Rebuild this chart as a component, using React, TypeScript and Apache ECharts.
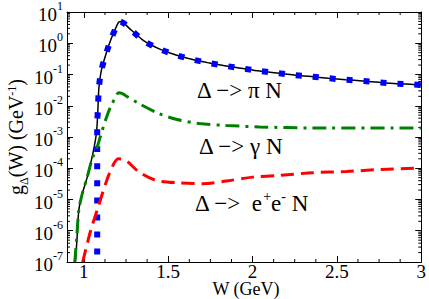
import React, { useEffect, useRef } from "react";
import * as echarts from "echarts";

// ---- data ----
// Δ -> πN : sub-threshold tail of the solid black curve
const PI_TAIL_W = [0.951, 0.96, 0.97, 0.99, 1.02, 1.049, 1.065, 1.076];
const PI_TAIL_G = [1.1e-7, 6.3e-7, 4.5e-6, 1.5e-5, 5.2e-5, 2.3e-4, 6.2e-4, 1.6e-3];
// Δ -> πN : main part (shared by black line and blue squares)
const PI_W = [1.083, 1.089, 1.103, 1.131, 1.1625, 1.204, 1.215, 1.238, 1.282, 1.361, 1.45, 1.546, 1.645, 1.744, 1.843, 1.942, 2.042, 2.145, 2.246, 2.349, 2.448, 2.552, 2.653, 2.752, 2.855, 2.954, 3.0];
const PI_G = [7.2e-3, 3.7e-2, 0.13, 0.45, 1.41, 4.6, 5.0, 4.3, 2.6, 1.15, 0.65, 0.42, 0.3, 0.233, 0.187, 0.155, 0.129, 0.112, 0.096, 0.086, 0.076, 0.068, 0.062, 0.056, 0.051, 0.048, 0.046];
// blue squares: vertical rise at the πN threshold
const BLUE_THR_W = [1.079, 1.079];
const BLUE_THR_G = [5e-8, 2.5e-3];
// Δ -> γN
const GAMMA_W = [0.946, 0.958, 0.97, 0.99, 1.02, 1.049, 1.079, 1.099, 1.138, 1.168, 1.208, 1.225, 1.248, 1.327, 1.446, 1.546, 1.685, 1.843, 2.042, 2.357, 3.0];
const GAMMA_G = [1.0e-7, 6.3e-7, 4.5e-6, 1.5e-5, 5.2e-5, 2.0e-4, 4.8e-4, 1.1e-3, 4.9e-3, 1.17e-2, 2.6e-2, 2.5e-2, 2.1e-2, 1.17e-2, 5.6e-3, 3.7e-3, 2.7e-3, 2.35e-3, 2.1e-3, 1.95e-3, 1.95e-3];
// Δ -> e+e-N
const EE_W = [0.993, 1.04, 1.085, 1.129, 1.168, 1.204, 1.248, 1.327, 1.427, 1.565, 1.704, 1.843, 2.002, 2.161, 2.359, 2.558, 2.756, 3.0];
const EE_G = [1.0e-7, 1.0e-6, 5.8e-6, 3.2e-5, 1.1e-4, 2.0e-4, 1.8e-4, 7.6e-5, 4.1e-5, 3.4e-5, 3.2e-5, 3.9e-5, 5.2e-5, 5.9e-5, 7.2e-5, 7.9e-5, 9.1e-5, 1.02e-4];

// axes
const X_MIN = 0.9;
const X_MAX = 3;
const Y_MIN = 1e-7;
const Y_MAX = 10;
const X_TICK_LABELS = [1, 1.5, 2, 2.5, 3];
const X_MINOR = [1.125, 1.25, 1.375, 1.625, 1.75, 1.875, 2.125, 2.25, 2.375, 2.625, 2.75, 2.875];
const Y_DECADES = [-7, -6, -5, -4, -3, -2, -1, 0];
const Y_MINOR_MULT = [2, 3, 4, 5, 6, 7, 8, 9];

const FONT = "Liberation Serif";

const zip = (a: number[], b: number[]) => a.map((v, i) => [v, b[i]]);

export default function App() {
  const ref = useRef<HTMLDivElement>(null);
  useEffect(() => {
    if (!ref.current) return;
    const chart = echarts.init(ref.current, null, { renderer: "svg" });

    const minorData: number[][] = [];
    Y_DECADES.forEach((e) =>
      Y_MINOR_MULT.forEach((k) => minorData.push([X_MIN, k * Math.pow(10, e), 0]))
    );
    X_MINOR.forEach((x) => minorData.push([x, Y_MIN, 1]));

    const supLabel = (v: number) => {
      const e = Math.round(Math.log10(v));
      return `{b|10}{s|${e}}`;
    };

    const axisLineStyle = { show: true, lineStyle: { color: "#000", width: 1 } };

    chart.setOption({
      animation: false,
      backgroundColor: "#fff",
      grid: { left: 67, right: 7, top: 12, bottom: 37, containLabel: false },
      xAxis: [
        {
          type: "value",
          min: X_MIN,
          max: X_MAX,
          splitNumber: 5,
          axisLine: axisLineStyle,
          axisTick: { show: true, inside: true, length: 6, lineStyle: { color: "#000" } },
          splitLine: { show: false },
          axisLabel: {
            margin: 2,
            color: "#000",
            fontFamily: FONT,
            fontSize: 19,
            lineHeight: 15,
            formatter: (v: number) => (X_TICK_LABELS.some((t) => Math.abs(t - v) < 1e-9) ? String(v) : ""),
          },
        },
        {
          type: "value",
          position: "top",
          min: X_MIN,
          max: X_MAX,
          splitNumber: 5,
          axisLine: axisLineStyle,
          axisTick: { show: true, inside: true, length: 6, lineStyle: { color: "#000" } },
          splitLine: { show: false },
          axisLabel: { show: false },
        },
      ],
      yAxis: [
        {
          type: "log",
          logBase: 10,
          min: Y_MIN,
          max: Y_MAX,
          axisLine: axisLineStyle,
          axisTick: { show: true, inside: true, length: 6, lineStyle: { color: "#000" } },
          splitLine: { show: false },
          axisLabel: {
            margin: 4,
            color: "#000",
            fontFamily: FONT,
            formatter: supLabel,
            rich: {
              b: { fontFamily: FONT, fontSize: 19, lineHeight: 24, color: "#000", verticalAlign: "bottom" },
              s: { fontFamily: FONT, fontSize: 12, lineHeight: 12, color: "#000", verticalAlign: "top" },
            },
          },
        },
        {
          type: "log",
          logBase: 10,
          position: "right",
          min: Y_MIN,
          max: Y_MAX,
          axisLine: axisLineStyle,
          axisTick: { show: true, inside: true, length: 6, lineStyle: { color: "#000" } },
          splitLine: { show: false },
          axisLabel: { show: false },
        },
      ],
      series: [
        {
          type: "custom",
          silent: true,
          clip: false,
          data: minorData,
          renderItem: (params: any, api: any) => {
            const kind = api.value(2);
            const len = 3;
            const style = { stroke: "#000", lineWidth: 1 };
            if (kind === 0) {
              const v = api.value(1);
              const p1 = api.coord([X_MIN, v]);
              const p2 = api.coord([X_MAX, v]);
              return {
                type: "group",
                children: [
                  { type: "line", shape: { x1: p1[0], y1: p1[1], x2: p1[0] + len, y2: p1[1] }, style },
                  { type: "line", shape: { x1: p2[0], y1: p2[1], x2: p2[0] - len, y2: p2[1] }, style },
                ],
              };
            }
            const x = api.value(0);
            const p1 = api.coord([x, Y_MIN]);
            const p2 = api.coord([x, Y_MAX]);
            return {
              type: "group",
              children: [
                { type: "line", shape: { x1: p1[0], y1: p1[1], x2: p1[0], y2: p1[1] - len }, style },
                { type: "line", shape: { x1: p2[0], y1: p2[1], x2: p2[0], y2: p2[1] + len }, style },
              ],
            };
          },
        },
        {
          name: "pi",
          type: "line",
          data: zip(PI_TAIL_W, PI_TAIL_G).concat(zip(PI_W, PI_G)),
          showSymbol: false,
          smooth: 0.3,
          lineStyle: { color: "#000", width: 1.5 },
          z: 3,
        },
        {
          name: "pi-blue",
          type: "line",
          data: zip(BLUE_THR_W, BLUE_THR_G).concat(zip(PI_W, PI_G)),
          showSymbol: false,
          smooth: 0.3,
          lineStyle: { color: "#0000ff", width: 6, type: [6, 11], cap: "butt" },
          z: 4,
        },
        {
          name: "gamma",
          type: "line",
          data: zip(GAMMA_W, GAMMA_G),
          showSymbol: false,
          smooth: 0.3,
          lineStyle: { color: "#008000", width: 3, type: [14, 6, 3, 6], cap: "butt" },
          z: 5,
        },
        {
          name: "ee",
          type: "line",
          data: zip(EE_W, EE_G),
          showSymbol: false,
          smooth: 0.3,
          lineStyle: { color: "#ff0000", width: 3, type: [13, 7], cap: "butt" },
          z: 5,
        },
      ],
      graphic: [
        {
          type: "text",
          x: 16,
          y: 137,
          rotation: Math.PI / 2,
          style: {
            text: "g{sub|Δ}(W) (GeV{sup|-1})",
            fontFamily: FONT,
            fontSize: 20,
            fill: "#000",
            align: "center",
            verticalAlign: "middle",
            rich: {
              sub: { fontFamily: FONT, fontSize: 12, verticalAlign: "bottom", lineHeight: 12, padding: [0, 0, -4, 0] },
              sup: { fontFamily: FONT, fontSize: 12, verticalAlign: "top", lineHeight: 12 },
            },
          },
        },
        {
          type: "text",
          x: 246,
          y: 289,
          style: {
            text: "W (GeV)",
            fontFamily: FONT,
            fontSize: 18,
            lineHeight: 15,
            fill: "#000",
            align: "center",
            verticalAlign: "middle",
          },
        },
        {
          type: "text",
          x: 197,
          y: 90,
          style: { text: "Δ −> π N", fontFamily: FONT, fontSize: 23, fill: "#000", align: "left", verticalAlign: "middle" },
        },
        {
          type: "text",
          x: 199,
          y: 146,
          style: { text: "Δ −> γ N", fontFamily: FONT, fontSize: 23, fill: "#000", align: "left", verticalAlign: "middle" },
        },
        {
          type: "text",
          x: 195,
          y: 202,
          style: {
            text: "{m|Δ −>  e}{s|+}{m|e}{s|-}{m| N}",
            fill: "#000",
            align: "left",
            verticalAlign: "middle",
            rich: {
              m: { fontFamily: FONT, fontSize: 23, lineHeight: 26, verticalAlign: "bottom" },
              s: { fontFamily: FONT, fontSize: 14, lineHeight: 14, verticalAlign: "top" },
            },
          },
        },
      ],
    });
    return () => chart.dispose();
  }, []);

  return (
    <div
      ref={ref}
      style={{ position: "fixed", left: 0, top: 0, width: 429, height: 299 }}
    />
  );
}
